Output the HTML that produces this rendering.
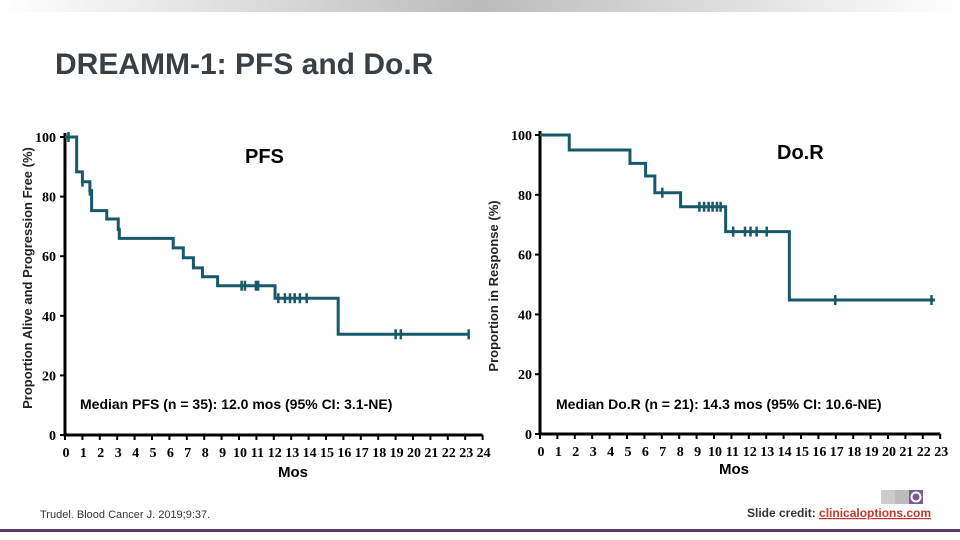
<!DOCTYPE html>
<html><head><meta charset="utf-8"><style>
body{margin:0;background:#fff;width:960px;height:540px;overflow:hidden;font-family:"Liberation Sans",sans-serif}
svg{position:absolute;left:0;top:0}
</style></head><body>
<svg id="s" width="960" height="540">
<defs><linearGradient id="g" x1="0" x2="1"><stop offset="0" stop-color="#fff"/><stop offset="0.5" stop-color="#bbb"/><stop offset="1" stop-color="#fff"/></linearGradient></defs>
<rect x="0" y="0" width="960" height="12" fill="url(#g)"/>
<text x="55" y="74" font-size="30" font-weight="bold" fill="#3a3f44">DREAMM-1: PFS and Do.R</text>
<text x="245" y="163" font-size="20" font-weight="bold">PFS</text>
<text x="777" y="159" font-size="20" font-weight="bold">Do.R</text>
<text transform="translate(32,278) rotate(-90)" text-anchor="middle" font-size="13" font-weight="bold" fill="#222">Proportion Alive and Progression Free (%)</text>
<text transform="translate(498,286) rotate(-90)" text-anchor="middle" font-size="13" font-weight="bold" fill="#222">Proportion in Response (%)</text>
<text x="80" y="409" font-size="14" font-weight="bold">Median PFS (n = 35): 12.0 mos (95% CI: 3.1-NE)</text>
<text x="556" y="409" font-size="14" font-weight="bold">Median Do.R (n = 21): 14.3 mos (95% CI: 10.6-NE)</text>
<text x="293" y="477" text-anchor="middle" font-size="15" font-weight="bold">Mos</text>
<text x="734" y="474" text-anchor="middle" font-size="15" font-weight="bold">Mos</text>
<text x="40" y="518" font-size="11" fill="#333">Trudel. Blood Cancer J. 2019;9:37.</text>
<g><rect x="881" y="490" width="14" height="14" fill="#ccc"/><rect x="895" y="490" width="14" height="14" fill="#bbb"/><rect x="909" y="490" width="14" height="14" fill="#7d5a92"/><circle cx="916" cy="497" r="4.5" fill="none" stroke="#fff" stroke-width="2"/></g>
<text x="747" y="517" font-size="12" font-weight="bold" fill="#333">Slide credit: <tspan fill="#c0392b" text-decoration="underline">clinicaloptions.com</tspan></text>
<rect x="0" y="529" width="960" height="3" fill="#5a3b6b"/>
</svg>
<script>
const pfsTimes=[0,0.67,1.0,1.43,1.53,1.53,2.4,3.06,3.12,6.22,6.8,7.38,7.9,8.77,12.07,15.7,23.2];
const pfsSurv=[100,88.3,85,82,78.5,75.3,72.5,69,66,62.8,59.5,56.1,53.1,50.1,45.9,33.8,33.8];
const pfsCensorT=[0.2,1.0,1.43,10.15,10.34,10.97,11.1,12.26,12.64,12.93,13.2,13.5,13.89,19.0,19.3,23.2];
const dorTimes=[0,1.68,5.17,6.07,6.6,8.08,10.67,14.33,22.7];
const dorSurv=[100,95,90.5,86.3,80.7,76,67.7,44.8,44.8];
const dorCensorT=[7.03,9.16,9.43,9.69,9.92,10.17,10.38,11.1,11.78,12.1,12.45,13.03,16.97,22.5];
const yTicks=[0,20,40,60,80,100];
const NS='http://www.w3.org/2000/svg';
const svg=document.getElementById('s');
function mk(t,a){const e=document.createElementNS(NS,t);for(const k in a)e.setAttribute(k,a[k]);svg.appendChild(e);return e;}
function survAt(T,S,t){let v=S[0];for(let i=0;i<T.length;i++)if(T[i]<=t)v=S[i];return v;}
function chart(name,x0,y100,y0,maxM,T,S,C,lblX){
  const px=m=>x0+m*17.4, py=p=>y0-(y0-y100)*p/100;
  const ax=mk('path',{d:`M${x0},${y100-4}V${y0}H${px(maxM)}`,fill:'none',stroke:'#000','stroke-width':3});
  
  
  yTicks.forEach(v=>{
    const tk=mk('line',{x1:x0-5,x2:x0,y1:py(v),y2:py(v),stroke:'#000','stroke-width':2});
    
    
    const l=mk('text',{x:lblX,y:py(v)+5,'text-anchor':'end','font-size':14,'font-weight':'bold','font-family':'Liberation Serif, serif'});
    l.textContent=v;
    
    
  });
  for(let m=0;m<=maxM;m++){
    const tk=mk('line',{x1:px(m),x2:px(m),y1:y0,y2:y0+5,stroke:'#000','stroke-width':2});
    
    
    const l=mk('text',{x:px(m)+1,y:y0+22,'text-anchor':'middle','font-size':14,'font-weight':'bold','font-family':'Liberation Serif, serif'});
    l.textContent=m;
    
    
  }
  let d=`M${px(T[0])},${py(S[0])}`;
  for(let i=1;i<T.length;i++){d+=`H${px(T[i])}V${py(S[i])}`;}
  const p=mk('path',{d:d,fill:'none',stroke:'#17586b','stroke-width':3});
  
  
  C.forEach(t=>{
    const yy=py(survAt(T,S,t));
    const c=mk('line',{x1:px(t),x2:px(t),y1:yy-5,y2:yy+5,stroke:'#17586b','stroke-width':2.5});
    
    
  });
}
chart('pfs',65,137,435,24,pfsTimes,pfsSurv,pfsCensorT,56);
chart('dor',540,135,434,23,dorTimes,dorSurv,dorCensorT,532);
</script>
</body></html>
